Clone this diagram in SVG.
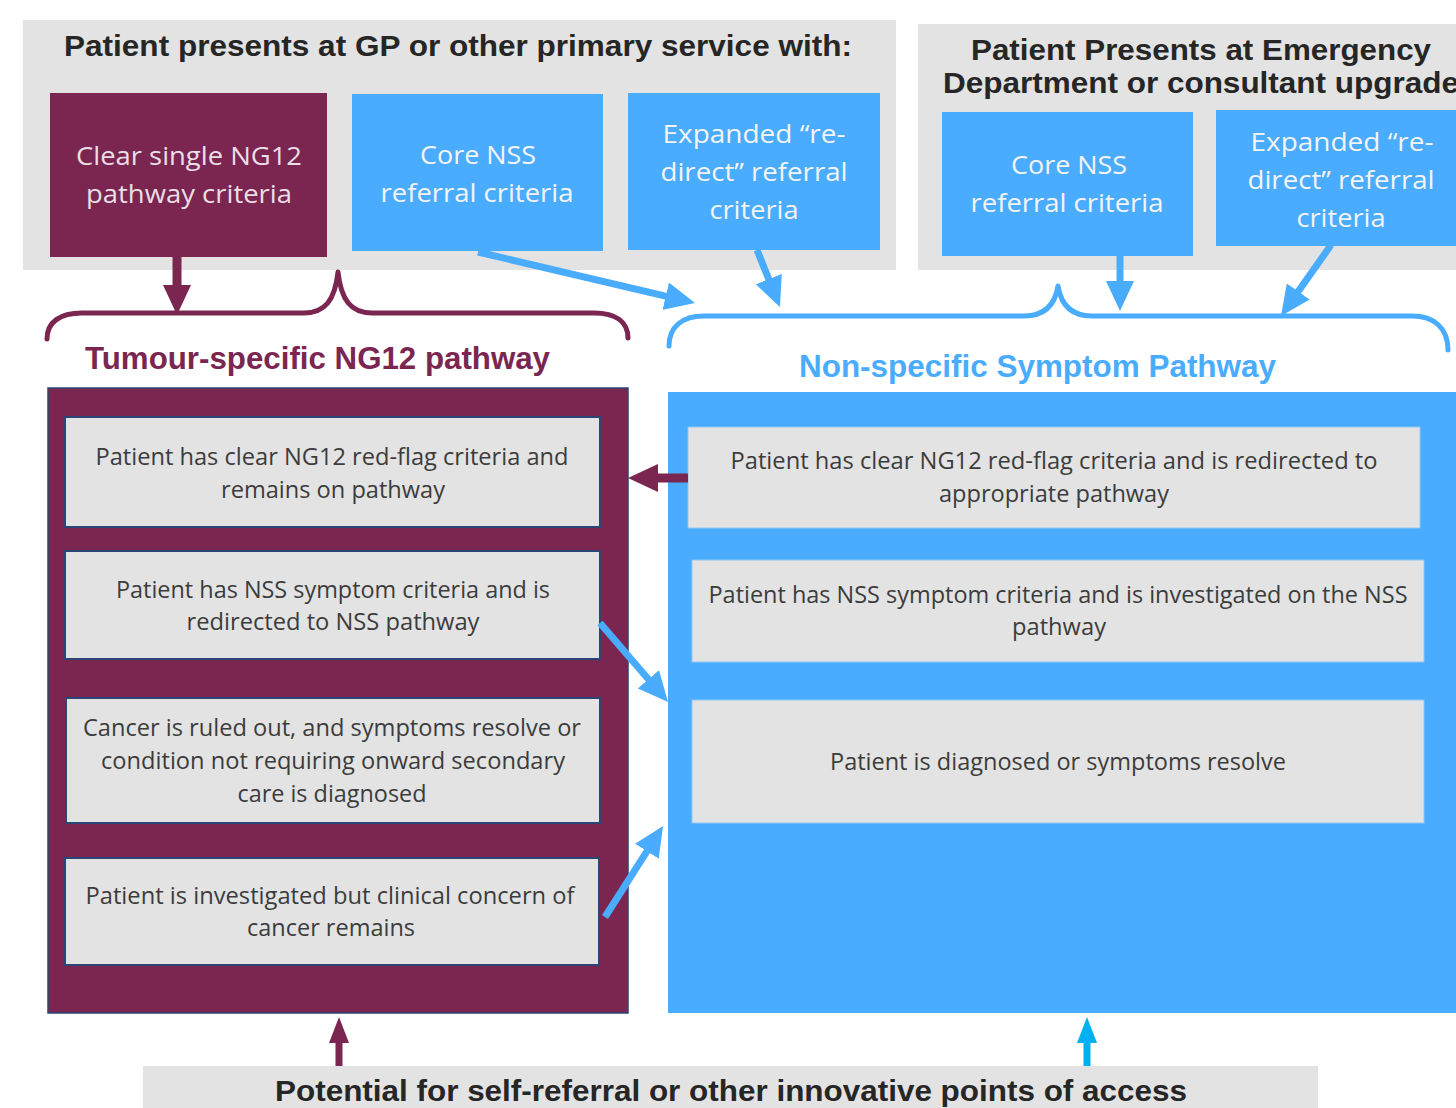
<svg xmlns="http://www.w3.org/2000/svg" width="1456" height="1108" viewBox="0 0 1456 1108">
  <defs>
    <style>
      .panel { fill: #e3e3e3; }
      .maroon { fill: #7b2651; }
      .blue { fill: #4aacfe; }
      .head { font-family: "Liberation Sans", Arial, sans-serif; font-weight: bold; font-size: 30px; fill: #262626; }
      .crit { font-family: "Open Sans", "Noto Sans", sans-serif; font-size: 26px; fill: #f4f4f4; text-anchor: middle; }
      .crit-m { fill: #eadfe6; }
      .path-title { font-family: "Liberation Sans", Arial, sans-serif; font-weight: bold; font-size: 31px; }
      .step { fill: #e3e3e3; }
      .step-m { stroke: #2c4476; stroke-width: 2; }
      .step-b { stroke: #8fc8f6; stroke-width: 1; }
      .body { font-family: "Open Sans", "Noto Sans", sans-serif; font-size: 23px; fill: #3c3c3c; text-anchor: middle; }
      .brace { fill: none; stroke-width: 5; stroke-linecap: round; stroke-linejoin: round; }
      .shaft-b { stroke: #4aacfe; stroke-width: 7; fill: none; }
      .shaft-m { stroke: #7b2651; stroke-width: 9; fill: none; }
    </style>
    <marker id="ah-blue" viewBox="0 0 30 28" markerWidth="30" markerHeight="28" markerUnits="userSpaceOnUse" refX="2" refY="14" orient="auto">
      <path d="M0,0 L30,14 L0,28 z" fill="#4aacfe"/>
    </marker>
    <marker id="ah-maroon" viewBox="0 0 30 28" markerWidth="30" markerHeight="28" markerUnits="userSpaceOnUse" refX="2" refY="14" orient="auto">
      <path d="M0,0 L30,14 L0,28 z" fill="#7b2651"/>
    </marker>
    <marker id="ah-maroon-s" viewBox="0 0 26 20" markerWidth="26" markerHeight="20" markerUnits="userSpaceOnUse" refX="2" refY="10" orient="auto">
      <path d="M0,0 L26,10 L0,20 z" fill="#7b2651"/>
    </marker>
    <marker id="ah-cyan-s" viewBox="0 0 26 20" markerWidth="26" markerHeight="20" markerUnits="userSpaceOnUse" refX="2" refY="10" orient="auto">
      <path d="M0,0 L26,10 L0,20 z" fill="#00b0f0"/>
    </marker>
  </defs>

  <rect width="1456" height="1108" fill="#ffffff"/>

  <!-- Entry point: primary care -->
  <g id="gp-entry">
    <rect class="panel" x="23" y="20" width="873" height="250"/>
    <text class="head" x="64" y="56" textLength="788" lengthAdjust="spacingAndGlyphs">Patient presents at GP or other primary service with:</text>
  </g>
  <g id="gp-ng12-criteria">
    <rect class="maroon" x="50" y="93" width="277" height="164"/>
    <text class="crit crit-m" x="189" y="165" textLength="226" lengthAdjust="spacingAndGlyphs">Clear single NG12</text>
    <text class="crit crit-m" x="189" y="203" textLength="206" lengthAdjust="spacingAndGlyphs">pathway criteria</text>
  </g>
  <g id="gp-core-nss">
    <rect class="blue" x="352" y="94" width="251" height="157"/>
    <text class="crit" x="478" y="164" textLength="116" lengthAdjust="spacingAndGlyphs">Core NSS</text>
    <text class="crit" x="477" y="202" textLength="193" lengthAdjust="spacingAndGlyphs">referral criteria</text>
  </g>
  <g id="gp-expanded">
    <rect class="blue" x="628" y="93" width="252" height="157"/>
    <text class="crit" x="754" y="143" textLength="183" lengthAdjust="spacingAndGlyphs">Expanded “re-</text>
    <text class="crit" x="754" y="181" textLength="187" lengthAdjust="spacingAndGlyphs">direct” referral</text>
    <text class="crit" x="754" y="219" textLength="89" lengthAdjust="spacingAndGlyphs">criteria</text>
  </g>

  <!-- Entry point: emergency department -->
  <g id="ed-entry">
    <rect class="panel" x="918" y="24" width="540" height="246"/>
    <text class="head" x="971" y="60" textLength="460" lengthAdjust="spacingAndGlyphs">Patient Presents at Emergency</text>
    <text class="head" x="943" y="93" textLength="516" lengthAdjust="spacingAndGlyphs">Department or consultant upgrade</text>
  </g>
  <g id="ed-core-nss">
    <rect class="blue" x="942" y="112" width="251" height="144"/>
    <text class="crit" x="1069" y="174" textLength="116" lengthAdjust="spacingAndGlyphs">Core NSS</text>
    <text class="crit" x="1067" y="212" textLength="193" lengthAdjust="spacingAndGlyphs">referral criteria</text>
  </g>
  <g id="ed-expanded">
    <rect class="blue" x="1216" y="110" width="250" height="136"/>
    <text class="crit" x="1342" y="151" textLength="183" lengthAdjust="spacingAndGlyphs">Expanded “re-</text>
    <text class="crit" x="1341" y="189" textLength="187" lengthAdjust="spacingAndGlyphs">direct” referral</text>
    <text class="crit" x="1341" y="227" textLength="89" lengthAdjust="spacingAndGlyphs">criteria</text>
  </g>

  <!-- Tumour-specific pathway -->
  <g id="ng12-pathway">
    <path class="brace" stroke="#7b2651" d="M47,339 C47,322 60,313 82,313 L304,313 C325,313 335,300 338,272 C341,300 351,313 372,313 L594,313 C616,313 628,322 628,338"/>
    <text class="path-title" fill="#7b2651" x="85" y="369" textLength="465" lengthAdjust="spacingAndGlyphs">Tumour-specific NG12 pathway</text>
    <rect class="maroon" x="48" y="388" width="580" height="625" stroke="#2c4476" stroke-width="1.5"/>
  </g>
  <g id="ng12-remains">
    <rect class="step step-m" x="65" y="417" width="535" height="110"/>
    <text class="body" x="332" y="465" textLength="473" lengthAdjust="spacingAndGlyphs">Patient has clear NG12 red-flag criteria and</text>
    <text class="body" x="333" y="498" textLength="224" lengthAdjust="spacingAndGlyphs">remains on pathway</text>
  </g>
  <g id="ng12-redirect">
    <rect class="step step-m" x="65" y="551" width="535" height="108"/>
    <text class="body" x="333" y="598" textLength="434" lengthAdjust="spacingAndGlyphs">Patient has NSS symptom criteria and is</text>
    <text class="body" x="333" y="630" textLength="293" lengthAdjust="spacingAndGlyphs">redirected to NSS pathway</text>
  </g>
  <g id="ng12-ruled-out">
    <rect class="step step-m" x="66" y="698" width="534" height="125"/>
    <text class="body" x="332" y="736" textLength="498" lengthAdjust="spacingAndGlyphs">Cancer is ruled out, and symptoms resolve or</text>
    <text class="body" x="333" y="769" textLength="464" lengthAdjust="spacingAndGlyphs">condition not requiring onward secondary</text>
    <text class="body" x="332" y="802" textLength="189" lengthAdjust="spacingAndGlyphs">care is diagnosed</text>
  </g>
  <g id="ng12-concern">
    <rect class="step step-m" x="65" y="858" width="534" height="107"/>
    <text class="body" x="330" y="904" textLength="489" lengthAdjust="spacingAndGlyphs">Patient is investigated but clinical concern of</text>
    <text class="body" x="331" y="936" textLength="168" lengthAdjust="spacingAndGlyphs">cancer remains</text>
  </g>

  <!-- Non-specific symptom pathway -->
  <g id="nss-pathway">
    <path class="brace" stroke="#4aacfe" d="M669,346 C669,327 682,316 704,316 L1024,316 C1045,316 1055,305 1058,286 C1061,305 1071,316 1092,316 L1412,316 C1434,316 1448,328 1448,350"/>
    <text class="path-title" fill="#4aacfe" x="799" y="377" textLength="477" lengthAdjust="spacingAndGlyphs">Non-specific Symptom Pathway</text>
    <rect class="blue" x="668" y="392" width="800" height="621"/>
  </g>
  <g id="nss-redirect">
    <rect class="step step-b" x="688" y="427" width="732" height="101"/>
    <text class="body" x="1054" y="469" textLength="647" lengthAdjust="spacingAndGlyphs">Patient has clear NG12 red-flag criteria and is redirected to</text>
    <text class="body" x="1054" y="502" textLength="230" lengthAdjust="spacingAndGlyphs">appropriate pathway</text>
  </g>
  <g id="nss-investigated">
    <rect class="step step-b" x="692" y="560" width="732" height="102"/>
    <text class="body" x="1058" y="603" textLength="699" lengthAdjust="spacingAndGlyphs">Patient has NSS symptom criteria and is investigated on the NSS</text>
    <text class="body" x="1059" y="635" textLength="94" lengthAdjust="spacingAndGlyphs">pathway</text>
  </g>
  <g id="nss-outcome">
    <rect class="step step-b" x="692" y="700" width="732" height="123"/>
    <text class="body" x="1058" y="770" textLength="456" lengthAdjust="spacingAndGlyphs">Patient is diagnosed or symptoms resolve</text>
  </g>

  <!-- Other access routes -->
  <g id="self-referral">
    <rect class="panel" x="143" y="1066" width="1175" height="42"/>
    <text class="head" x="275" y="1101" textLength="912" lengthAdjust="spacingAndGlyphs">Potential for self-referral or other innovative points of access</text>
  </g>

  <!-- Connectors -->
  <g id="connectors">
    <line class="shaft-m" x1="177" y1="257" x2="177" y2="287" marker-end="url(#ah-maroon)"/>
    <line class="shaft-b" x1="478" y1="252" x2="667.7" y2="296.6" marker-end="url(#ah-blue)"/>
    <line class="shaft-b" x1="757" y1="250" x2="769.5" y2="281" marker-end="url(#ah-blue)"/>
    <line class="shaft-b" x1="1120" y1="256" x2="1120" y2="283" marker-end="url(#ah-blue)"/>
    <line class="shaft-b" x1="1331" y1="245" x2="1297.1" y2="293.1" marker-end="url(#ah-blue)"/>
    <line class="shaft-m" x1="688" y1="478" x2="656" y2="478" marker-end="url(#ah-maroon)"/>
    <line class="shaft-b" x1="600" y1="623" x2="649.7" y2="680.8" marker-end="url(#ah-blue)"/>
    <line class="shaft-b" x1="605" y1="917" x2="648" y2="849.6" marker-end="url(#ah-blue)"/>
    <line stroke="#7b2651" stroke-width="7" x1="339" y1="1066" x2="339" y2="1041" marker-end="url(#ah-maroon-s)"/>
    <line stroke="#00b0f0" stroke-width="7" x1="1087" y1="1066" x2="1087" y2="1041" marker-end="url(#ah-cyan-s)"/>
  </g>
</svg>
